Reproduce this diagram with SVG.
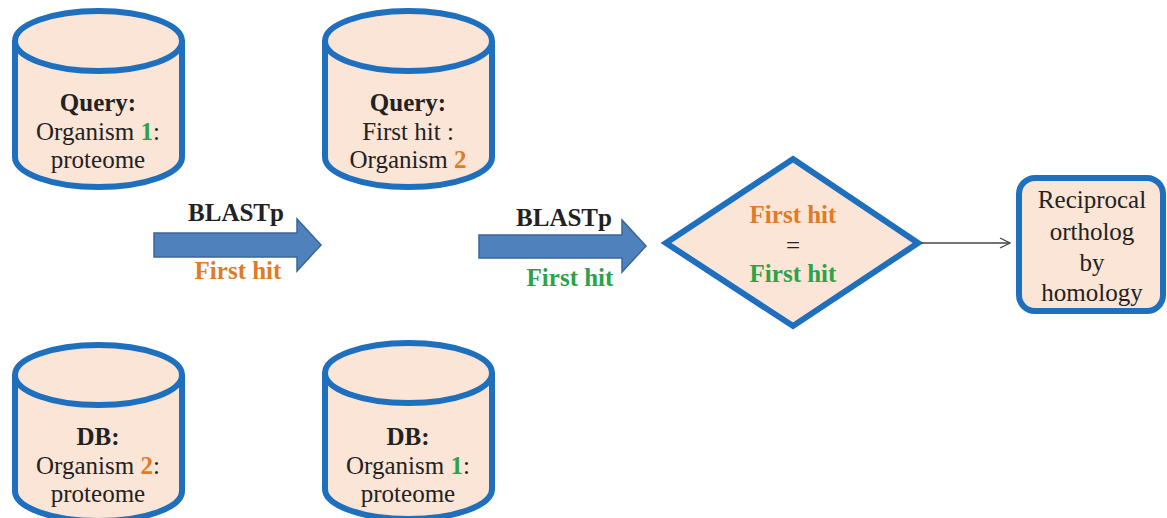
<svg xmlns="http://www.w3.org/2000/svg" width="1167" height="518" viewBox="0 0 1167 518">
<defs>
<style>
.shape{fill:#fbe5d6;stroke:#1f6fbf;stroke-width:6}
.t{font-family:"Liberation Serif","DejaVu Serif",serif;font-size:25px;fill:#222;text-anchor:middle}
.b{font-weight:bold}
.or{fill:#e07b28}
.gr{fill:#2ca24a}
.blk{fill:#4f81bd;stroke:#3b6699;stroke-width:1.5}
</style>
<marker id="open" viewBox="0 0 12 12" refX="11" refY="6" markerWidth="12" markerHeight="12" markerUnits="userSpaceOnUse" orient="auto">
<path d="M1,1 L11,6 L1,11" fill="none" stroke="#444" stroke-width="1.3"/>
</marker>
</defs>
<rect width="1167" height="518" fill="#fff"/>

<g id="q1">
<path class="shape" d="M15,41 L15,157 A83.5,30 0 0 0 182,157 L182,41"/>
<ellipse class="shape" cx="98.5" cy="41" rx="83.5" ry="30"/>
<text class="t b" x="98" y="111">Query:</text>
<text class="t" x="98" y="140">Organism <tspan class="b gr">1</tspan>:</text>
<text class="t" x="98" y="168">proteome</text>
</g>

<g id="q2">
<path class="shape" d="M325,41 L325,157 A83.5,30 0 0 0 492,157 L492,41"/>
<ellipse class="shape" cx="408.5" cy="41" rx="83.5" ry="30"/>
<text class="t b" x="408" y="111">Query:</text>
<text class="t" x="408" y="140">First hit :</text>
<text class="t" x="408" y="168">Organism <tspan class="b or">2</tspan></text>
</g>

<g id="db1">
<path class="shape" d="M15,375 L15,491 A83.5,30 0 0 0 182,491 L182,375"/>
<ellipse class="shape" cx="98.5" cy="375" rx="83.5" ry="30"/>
<text class="t b" x="98" y="445">DB:</text>
<text class="t" x="98" y="474">Organism <tspan class="b or">2</tspan>:</text>
<text class="t" x="98" y="502">proteome</text>
</g>

<g id="db2">
<path class="shape" d="M325,373 L325,489 A83.5,30 0 0 0 492,489 L492,373"/>
<ellipse class="shape" cx="408.5" cy="373" rx="83.5" ry="30"/>
<text class="t b" x="408" y="445">DB:</text>
<text class="t" x="408" y="474">Organism <tspan class="b gr">1</tspan>:</text>
<text class="t" x="408" y="502">proteome</text>
</g>

<g id="blast1">
<path class="blk" d="M154,233 L297,233 L297,219 L321,245 L297,271 L297,257 L154,257 Z"/>
<text class="t b" x="236" y="221">BLASTp</text>
<text class="t b or" x="238" y="279">First hit</text>
</g>

<g id="blast2">
<path class="blk" d="M479,235 L622,235 L622,220 L646,246 L622,272 L622,258 L479,258 Z"/>
<text class="t b" x="564" y="226">BLASTp</text>
<text class="t b gr" x="570" y="286">First hit</text>
</g>

<g id="decision">
<path class="shape" d="M793,159 L918,243 L793,326 L666,243 Z"/>
<text class="t b or" x="793" y="223">First hit</text>
<text class="t" x="793" y="254">=</text>
<text class="t b gr" x="793" y="282">First hit</text>
</g>

<g id="result">
<rect class="shape" x="1019" y="178" width="144" height="133" rx="16"/>
<text class="t" x="1092" y="208">Reciprocal</text>
<text class="t" x="1092" y="240">ortholog</text>
<text class="t" x="1092" y="271">by</text>
<text class="t" x="1092" y="301">homology</text>
</g>

<g id="connectors">
<line x1="921" y1="243" x2="1010" y2="243" stroke="#444" stroke-width="1.3" marker-end="url(#open)"/>
</g>
</svg>
